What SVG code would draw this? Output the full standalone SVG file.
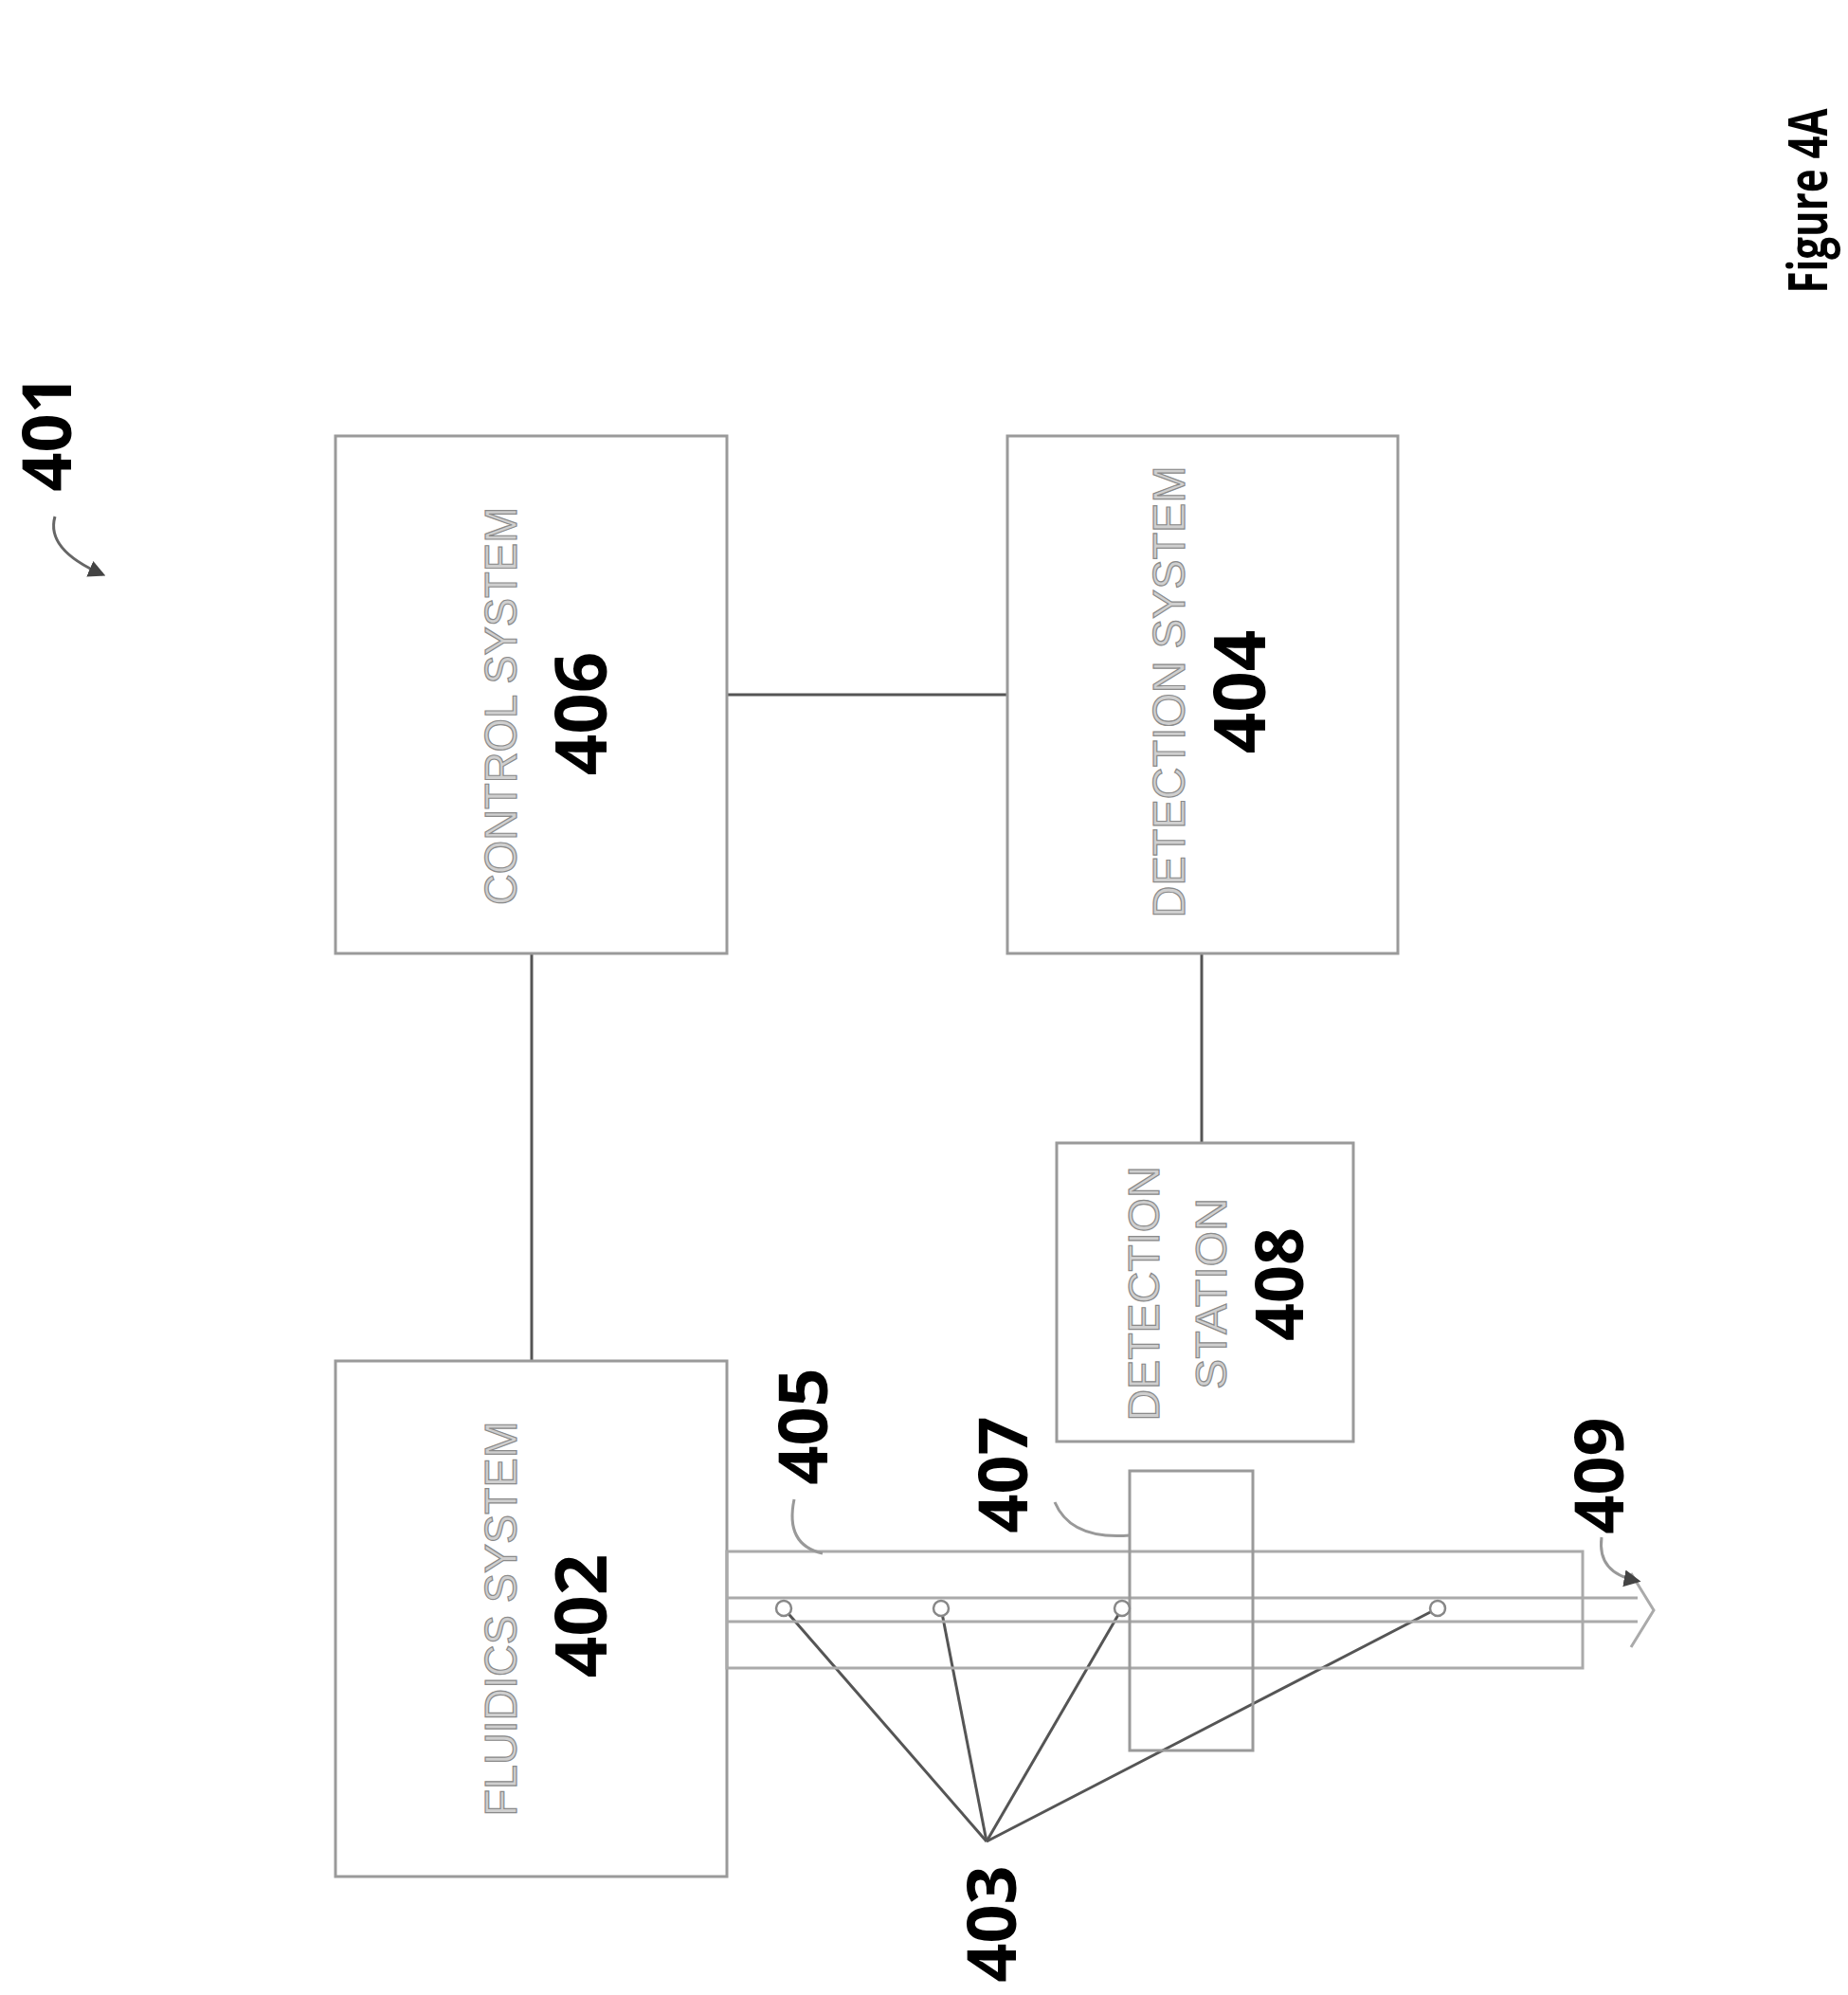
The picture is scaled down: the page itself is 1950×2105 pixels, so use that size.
<svg xmlns="http://www.w3.org/2000/svg" width="1950" height="2105" viewBox="0 0 1950 2105">
<style>
.box{fill:none;stroke:#9a9a9a;stroke-width:3}
.con{fill:none;stroke:#555;stroke-width:3}
.ch{fill:none;stroke:#aaa;stroke-width:3}
.lbl{font-family:"Liberation Sans Narrow","Liberation Sans",sans-serif;fill:#cfcfcf;stroke:#8a8a8a;stroke-width:1.2;text-anchor:middle}
.num{font-family:"Open Sans","Liberation Sans",sans-serif;font-weight:bold;fill:#000;text-anchor:middle}
.lead{fill:none;stroke:#999;stroke-width:3}
</style>
<defs>
<marker id="ah" viewBox="0 0 10 10" refX="8" refY="5" markerWidth="6" markerHeight="6" orient="auto"><path d="M0,0 L10,5 L0,10 z" fill="#444"/></marker>
</defs>
<rect width="1950" height="2105" fill="#fff"/>
<g id="connectors">
<line class="con" x1="767" y1="733" x2="1063" y2="733"/>
<line class="con" x1="561" y1="1006" x2="561" y2="1436"/>
<line class="con" x1="1268" y1="1006" x2="1268" y2="1206"/>
<g class="con" stroke-width="2.5">
<line x1="827" y1="1697" x2="1041" y2="1943"/>
<line x1="993" y1="1697" x2="1041" y2="1943"/>
<line x1="1184" y1="1697" x2="1041" y2="1943"/>
<line x1="1517" y1="1697" x2="1041" y2="1943"/>
</g>
</g>
<g id="n406"><rect class="box" x="354" y="460" width="413" height="546"/>
<text class="lbl" transform="rotate(-90 545 745)" x="545" y="745" font-size="48" textLength="420" lengthAdjust="spacingAndGlyphs">CONTROL SYSTEM</text>
<text class="num" transform="rotate(-90 640 753)" x="640" y="753" font-size="76">406</text></g>
<g id="n404"><rect class="box" x="1063" y="460" width="412" height="546"/>
<text class="lbl" transform="rotate(-90 1250 730)" x="1250" y="730" font-size="48" textLength="477" lengthAdjust="spacingAndGlyphs">DETECTION SYSTEM</text>
<text class="num" transform="rotate(-90 1335 730)" x="1335" y="730" font-size="76">404</text></g>
<g id="n402"><rect class="box" x="354" y="1436" width="413" height="544"/>
<text class="lbl" transform="rotate(-90 545 1708)" x="545" y="1708" font-size="48" textLength="417" lengthAdjust="spacingAndGlyphs">FLUIDICS SYSTEM</text>
<text class="num" transform="rotate(-90 640 1705)" x="640" y="1705" font-size="76">402</text></g>
<g id="n408"><rect class="box" x="1115" y="1206" width="313" height="315"/>
<text class="lbl" transform="rotate(-90 1223 1365)" x="1223" y="1365" font-size="46" textLength="269" lengthAdjust="spacingAndGlyphs">DETECTION</text>
<text class="lbl" transform="rotate(-90 1294 1365)" x="1294" y="1365" font-size="46" textLength="202" lengthAdjust="spacingAndGlyphs">STATION</text>
<text class="num" transform="rotate(-90 1375 1355)" x="1375" y="1355" font-size="70">408</text></g>
<g id="channel">
<rect class="ch" x="767" y="1637" width="903" height="123"/>
<line class="ch" x1="767" y1="1686" x2="1728" y2="1686"/>
<line class="ch" x1="767" y1="1711" x2="1728" y2="1711"/>
<polyline class="ch" points="1721,1660 1745,1699 1721,1738"/>
<rect class="box" x="1192" y="1552" width="130" height="295"/>
<g fill="#fff" stroke="#888" stroke-width="2.5">
<circle cx="827" cy="1697" r="8"/><circle cx="993" cy="1697" r="8"/><circle cx="1184" cy="1697" r="8"/><circle cx="1517" cy="1697" r="8"/>
</g>
</g>
<g id="labels">
<text class="num" transform="rotate(-90 1072 2030)" x="1072" y="2030" font-size="72">403</text>
<text class="num" transform="rotate(-90 873 1505)" x="873" y="1505" font-size="72">405</text>
<path class="lead" d="M838,1582 Q828,1630 868,1639"/>
<text class="num" transform="rotate(-90 1084 1556)" x="1084" y="1556" font-size="72">407</text>
<path class="lead" d="M1113,1585 Q1130,1625 1192,1620"/>
<text class="num" transform="rotate(-90 1713 1557)" x="1713" y="1557" font-size="72">409</text>
<path class="lead" d="M1690,1622 Q1685,1660 1728,1668" marker-end="url(#ah)"/>
<text class="num" transform="rotate(-90 75 457)" x="75" y="457" font-size="72">401</text>
<path d="M58,545 Q48,580 108,606" fill="none" stroke="#666" stroke-width="3" marker-end="url(#ah)"/>
<text class="num" transform="rotate(-90 1928 212)" x="1928" y="212" font-size="58" textLength="195" lengthAdjust="spacingAndGlyphs">Figure 4A</text>
</g>
</svg>
